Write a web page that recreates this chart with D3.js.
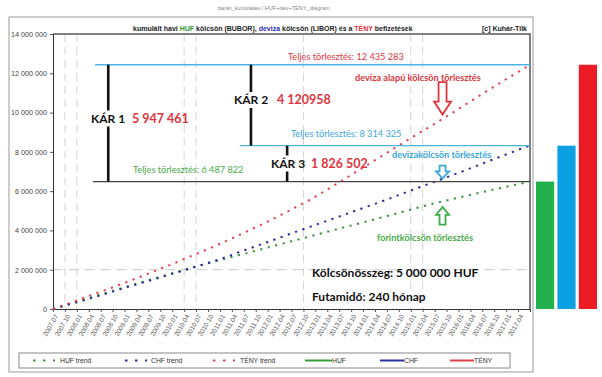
<html>
  <head>
    <style>
      body { margin: 0; background: #fff; }
      text { font-family: "Liberation Sans", Arial, sans-serif; }
      .note { font-family: Lato, "Open Sans", sans-serif; }
    </style>
  </head>
  <body>
    <svg id="chart" width="602" height="377"></svg>
    <script src="https://cdn.jsdelivr.net/npm/d3@7"></script>
    <script>
      // quarterly tick labels (month 0 = 2007.07)
      const tickLabels = [
        "2007.07", "2007.10",
        "2008.01", "2008.04", "2008.07", "2008.10",
        "2009.01", "2009.04", "2009.07", "2009.10",
        "2010.01", "2010.04", "2010.07", "2010.10",
        "2011.01", "2011.04", "2011.07", "2011.10",
        "2012.01", "2012.04", "2012.07", "2012.10",
        "2013.01", "2013.04", "2013.07", "2013.10",
        "2014.01", "2014.04", "2014.07", "2014.10",
        "2015.01", "2015.04", "2015.07", "2015.10",
        "2016.01", "2016.04", "2016.07", "2016.10",
        "2017.01", "2017.04"
      ];
      // month markers drawn as dashed verticals
      const markerMonths = ["2007.10", "2008.01", "2010.04", "2010.07", "2012.10", "2015.01", "2015.04"];

      // trend samples, every 6 months
      const trendMonths = [0, 6, 12, 18, 24, 30, 36, 42, 48, 54, 60, 66, 72, 78, 84, 90, 96, 102, 108, 114, 120];
      const hufTrend  = [0, 0.37, 0.74, 1.11, 1.47, 1.82, 2.16, 2.49, 2.81, 3.13, 3.45, 3.77, 4.09, 4.41, 4.73, 5.06, 5.38, 5.67, 5.95, 6.22, 6.49];
      const chfTrend  = [0, 0.34, 0.70, 1.07, 1.43, 1.79, 2.16, 2.54, 2.98, 3.41, 3.85, 4.28, 4.71, 5.14, 5.57, 6.03, 6.48, 6.93, 7.40, 7.87, 8.33];
      const tenyTrend = [0, 0.44, 0.88, 1.33, 1.80, 2.29, 2.80, 3.32, 3.87, 4.45, 5.07, 5.72, 6.45, 7.20, 7.95, 8.70, 9.43, 10.18, 10.95, 11.70, 12.42];

      // total repayments and losses
      const barNames = ["HUF", "CHF", "TÉNY"];
      const barValues = [6487822, 8314325, 12435283];
      const karValues = [5947461, 4120958, 1826502];

      const yTicks = [0, 2e6, 4e6, 6e6, 8e6, 10e6, 12e6, 14e6];

      const svg = d3.select("#chart");
      const x = d3.scaleLinear().domain([0, 120]).range([53, 530]);
      const y = d3.scaleLinear().domain([0, 14e6]).range([309, 34]);
      const monthIndex = (s) => (+s.slice(0, 4) - 2007) * 12 + (+s.slice(5) - 7);
      const fmt = (v) => d3.format(",")(v).replace(/,/g, " ");

      // outer frame + header
      svg.append("rect").attr("x", 9).attr("y", 17).attr("width", 524).attr("height", 355)
        .attr("fill", "none").attr("stroke", "#999").attr("stroke-width", 1);
      svg.append("text").attr("x", 218).attr("y", 10).attr("font-size", 5.6).attr("fill", "#888")
        .text("banki_kumulatas / HUF+dev+TENY_diagram");
      const title = svg.append("text").attr("x", 133).attr("y", 30.5)
        .attr("font-size", 7).attr("font-weight", "bold").attr("fill", "#222");
      title.append("tspan").text("kumulált havi ");
      title.append("tspan").attr("fill", "#2e9a2e").text("HUF");
      title.append("tspan").text(" kölcsön (BUBOR), ");
      title.append("tspan").attr("fill", "#2b2fb0").text("deviza");
      title.append("tspan").text(" kölcsön (LIBOR) és a ");
      title.append("tspan").attr("fill", "#e0303a").text("TÉNY");
      title.append("tspan").text(" befizetések");
      svg.append("text").attr("x", 527).attr("y", 30.5).attr("text-anchor", "end")
        .attr("font-size", 7).attr("font-weight", "bold").attr("fill", "#222").text("[c] Kuhár-Tilk");

      // grid
      svg.append("line").attr("x1", x(0)).attr("x2", x(120)).attr("y1", y(2e6)).attr("y2", y(2e6))
        .attr("stroke", "#c8c8c8").attr("stroke-dasharray", "10,6");
      svg.selectAll(".vmark").data(markerMonths).enter().append("line")
        .attr("class", "vmark")
        .attr("x1", (d) => x(monthIndex(d))).attr("x2", (d) => x(monthIndex(d)))
        .attr("y1", y(14e6)).attr("y2", y(0))
        .attr("stroke", "#d4d4d4").attr("stroke-dasharray", "8,5");

      // plot frame
      svg.append("path").attr("d", `M${x(0)},${y(14e6)}H${x(120)}V${y(0)}`)
        .attr("fill", "none").attr("stroke", "#555").attr("stroke-width", 1.5);

      // axes
      const yAxis = svg.append("g").attr("transform", `translate(${x(0)},0)`)
        .call(d3.axisLeft(y).tickValues(yTicks).tickFormat(fmt).tickSize(3).tickPadding(3));
      yAxis.select(".domain").attr("stroke", "#333");
      yAxis.selectAll("text").attr("font-size", 7.2).attr("fill", "#444").attr("font-family", "Liberation Sans");
      yAxis.selectAll(".tick line").attr("stroke", "#555");

      const xAxis = svg.append("g").attr("transform", `translate(0,${y(0)})`)
        .call(d3.axisBottom(x).tickValues(tickLabels.map(monthIndex)).tickFormat((d, i) => tickLabels[i]).tickSize(3));
      xAxis.select(".domain").attr("stroke", "#333");
      xAxis.selectAll(".tick line").attr("stroke", "#555");
      xAxis.selectAll("text").attr("font-size", 6.6).attr("fill", "#555").attr("font-family", "Liberation Sans")
        .attr("text-anchor", "end").attr("y", 0).attr("dy", "0.35em")
        .attr("transform", "translate(3,6) rotate(-60)");

      // trend lines
      const series = [
        { name: "HUF trend", values: hufTrend, color: "#3f953f" },
        { name: "CHF trend", values: chfTrend, color: "#2a2c9c" },
        { name: "TÉNY trend", values: tenyTrend, color: "#e04652" }
      ];
      const line = d3.line().x((d, i) => x(trendMonths[i])).y((d) => y(d * 1e6)).curve(d3.curveMonotoneX);
      svg.selectAll(".trend").data(series).enter().append("path")
        .attr("class", "trend")
        .attr("d", (d) => line(d.values))
        .attr("fill", "none").attr("stroke", (d) => d.color)
        .attr("stroke-width", 2).attr("stroke-dasharray", "2.2,5.5");

      // reference lines for totals
      const lvl = [
        { v: barValues[2], from: 10.6, color: "#4db3e3", w: 1.3 },
        { v: barValues[1], from: 47, color: "#4db3e3", w: 1.3 },
        { v: barValues[0], from: 10, color: "#444", w: 1.3 }
      ];
      svg.selectAll(".lvl").data(lvl).enter().append("line")
        .attr("x1", (d) => x(d.from)).attr("x2", x(120))
        .attr("y1", (d) => y(d.v)).attr("y2", (d) => y(d.v))
        .attr("stroke", (d) => d.color).attr("stroke-width", (d) => d.w);

      // KÁR vertical spans
      const kar = [
        { top: barValues[2], bot: barValues[0], at: 13.9, label: "KÁR 1", lx: 91, ly: 122.5, nx: 132 },
        { top: barValues[2], bot: barValues[1], at: 49.8, label: "KÁR 2", lx: 234, ly: 104, nx: 277 },
        { top: barValues[1], bot: barValues[0], at: 58.9, label: "KÁR 3", lx: 271, ly: 167.5, nx: 311 }
      ];
      const karG = svg.selectAll(".kar").data(kar).enter().append("g");
      karG.append("line")
        .attr("x1", (d) => x(d.at)).attr("x2", (d) => x(d.at))
        .attr("y1", (d) => y(d.top)).attr("y2", (d) => y(d.bot))
        .attr("stroke", "#111").attr("stroke-width", 2.6);
      karG.append("rect")
        .attr("x", (d) => d.lx - 1).attr("y", (d) => d.ly - 12).attr("width", 33).attr("height", 16)
        .attr("fill", "#fff");
      karG.append("text").attr("class", "note")
        .attr("x", (d) => d.lx).attr("y", (d) => d.ly)
        .attr("font-size", 12).attr("font-weight", "bold").attr("fill", "#111")
        .text((d) => d.label);
      karG.append("text").attr("class", "note")
        .attr("x", (d) => d.nx).attr("y", (d) => d.ly)
        .attr("font-size", 12.5).attr("font-weight", "bold").attr("fill", "#e0353e")
        .text((d, i) => i === 1 ? "4 120958" : fmt(karValues[i]));

      // notes
      const notes = [
        { t: "Teljes törlesztés: " + fmt(barValues[2]), x: 288, y: 59.5, c: "#e0353e", s: 9.2, w: "normal" },
        { t: "deviza alapú kölcsön törlesztés", x: 355, y: 80.5, c: "#e0353e", s: 9.2, w: "bold" },
        { t: "Teljes törlesztés: " + fmt(barValues[1]), x: 291, y: 136.5, c: "#3aa7db", s: 9.2, w: "normal" },
        { t: "devizakölcsön törlesztés", x: 392, y: 157.5, c: "#3aa7db", s: 9.2, w: "bold" },
        { t: "Teljes törlesztés: " + fmt(barValues[0]), x: 133, y: 172.5, c: "#4aab4a", s: 9.2, w: "normal" },
        { t: "forintkölcsön törlesztés", x: 377, y: 240.5, c: "#4aab4a", s: 9.2, w: "bold" },
        { t: "Kölcsönösszeg: 5 000 000 HUF", x: 312, y: 276.5, c: "#111", s: 12, w: "bold" },
        { t: "Futamidő: 240 hónap", x: 312, y: 300.5, c: "#111", s: 12, w: "bold" }
      ];
      svg.selectAll(".txt").data(notes).enter().append("text").attr("class", "note")
        .attr("x", (d) => d.x).attr("y", (d) => d.y)
        .attr("font-size", (d) => d.s).attr("font-weight", (d) => d.w).attr("fill", (d) => d.c)
        .text((d) => d.t);

      // outline block arrows
      function arrow(cx, tail, tip, shaft, head, headLen) {
        const dir = tip > tail ? 1 : -1;
        const neck = tip - dir * headLen;
        return `M${cx - shaft / 2},${tail}V${neck}H${cx - head / 2}L${cx},${tip}L${cx + head / 2},${neck}H${cx + shaft / 2}V${tail}Z`;
      }
      const arrows = [
        { tail: 11.55e6, tip: 9.9e6, shaft: 8, head: 17, len: 13, c: "#e0353e" },
        { tail: 7.3e6, tip: 6.65e6, shaft: 6, head: 13, len: 7, c: "#3aa7db" },
        { tail: 4.3e6, tip: 5.2e6, shaft: 6, head: 13, len: 8, c: "#3fae4a" }
      ];
      svg.selectAll(".arr").data(arrows).enter().append("path")
        .attr("d", (d) => arrow(x(98), y(d.tail), y(d.tip), d.shaft, d.head, d.len))
        .attr("fill", "#fff").attr("stroke", (d) => d.c).attr("stroke-width", 1.8);

      // side bars
      const bx = d3.scaleBand().domain(barNames).range([536, 597]).paddingInner(0.15);
      const barColor = { "HUF": "#22b14c", "CHF": "#0aa0e2", "TÉNY": "#ed1c24" };
      svg.selectAll(".bar").data(barNames).enter().append("rect")
        .attr("x", (d) => bx(d)).attr("width", bx.bandwidth())
        .attr("y", (d, i) => y(barValues[i])).attr("height", (d, i) => y(0) - y(barValues[i]))
        .attr("fill", (d) => barColor[d]);

      // legend
      svg.append("rect").attr("x", 19).attr("y", 353).attr("width", 491).attr("height", 15)
        .attr("fill", "#fff").attr("stroke", "#888");
      const legend = [
        { name: "HUF trend", color: "#3f953f", dash: true, x0: 33, x1: 55, tx: 60 },
        { name: "CHF trend", color: "#2a2c9c", dash: true, x0: 125, x1: 147, tx: 151 },
        { name: "TÉNY trend", color: "#e04652", dash: true, x0: 213, x1: 235, tx: 240 },
        { name: "HUF", color: "#3a9a3a", dash: false, x0: 305, x1: 332, tx: 332 },
        { name: "CHF", color: "#2b2f9e", dash: false, x0: 380, x1: 404, tx: 404 },
        { name: "TÉNY", color: "#e0404a", dash: false, x0: 450, x1: 474, tx: 474 }
      ];
      const lg = svg.selectAll(".lg").data(legend).enter().append("g");
      lg.append("line").attr("x1", (d) => d.x0).attr("x2", (d) => d.x1).attr("y1", 360.5).attr("y2", 360.5)
        .attr("stroke", (d) => d.color).attr("stroke-width", 2)
        .attr("stroke-dasharray", (d) => d.dash ? "2.5,7.5" : null);
      lg.append("text").attr("x", (d) => d.tx).attr("y", 363).attr("font-size", 6.8).attr("fill", "#333")
        .text((d) => d.name);
    </script>
  </body>
</html>
